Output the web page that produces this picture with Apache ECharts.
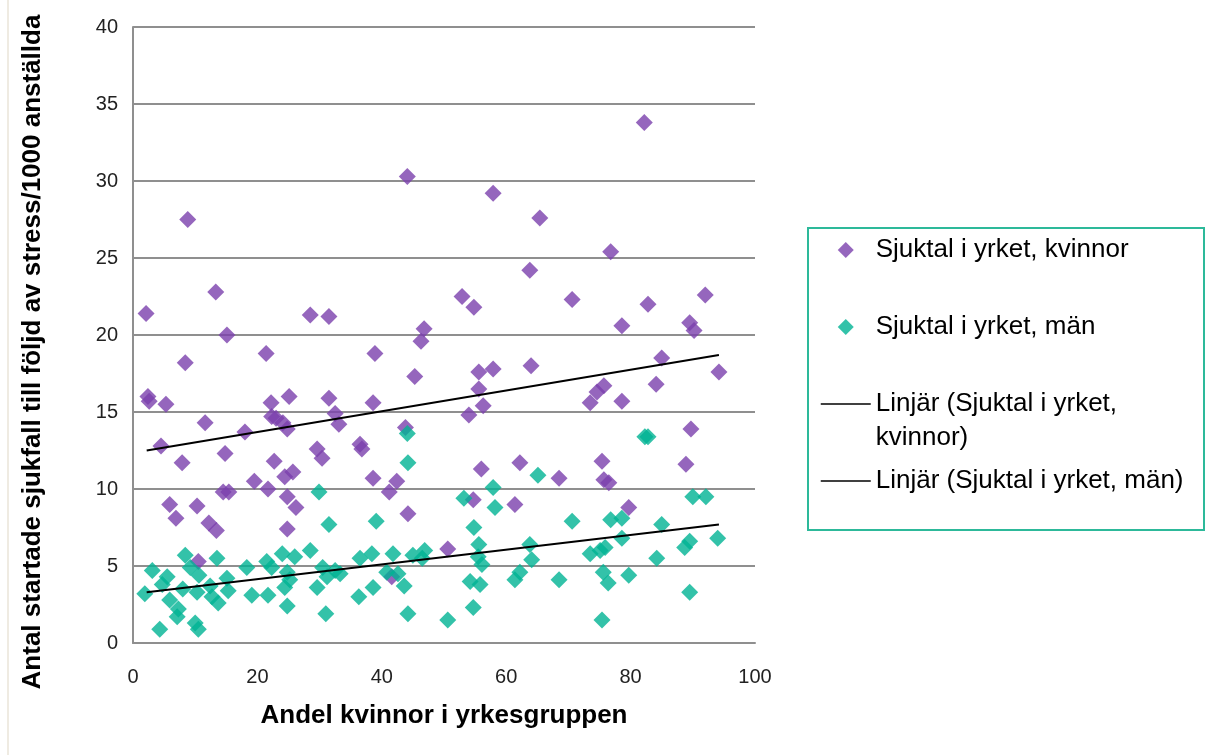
<!DOCTYPE html>
<html>
<head>
<meta charset="utf-8">
<script src="https://cdn.jsdelivr.net/npm/echarts@6/dist/echarts.min.js"></script>
<style>
html,body{margin:0;padding:0;background:#fff;}
#chart{width:1205px;height:755px;}
</style>
</head>
<body>
<div id="chart"></div>
<script>
// ---- data ----
const seriesNames = ['Sjuktal i yrket, kvinnor', 'Sjuktal i yrket, män',
  'Linjär (Sjuktal i yrket, kvinnor)', 'Linjär (Sjuktal i yrket, män)'];
const xTitle = 'Andel kvinnor i yrkesgruppen';
const yTitle = 'Antal startade sjukfall till följd av stress/1000 anställda';

// [andel kvinnor %, sjuktal]
const women = [
  [2.1,21.4],[2.4,16.0],[2.6,15.7],[4.5,12.8],[5.3,15.5],[5.9,9.0],[6.9,8.1],[7.9,11.7],
  [8.4,18.2],[8.8,27.5],[10.3,8.9],[11.6,14.3],[12.2,7.8],[13.4,7.3],[13.3,22.8],[14.5,9.8],
  [14.8,12.3],[15.1,20.0],[15.4,9.8],[18.0,13.7],[19.5,10.5],[21.4,18.8],[21.7,10.0],[22.2,15.6],
  [22.3,14.7],[22.7,11.8],[23.0,14.6],[24.1,14.3],[24.4,10.8],[24.8,13.9],[25.1,16.0],[24.8,9.5],
  [24.8,7.4],[25.7,11.1],[26.2,8.8],[28.5,21.3],[29.6,12.6],[30.4,12.0],[31.5,21.2],[31.5,15.9],
  [32.5,14.9],[33.1,14.2],[36.5,12.9],[36.8,12.6],[38.9,18.8],[38.6,15.6],[38.6,10.7],[41.2,9.8],
  [42.4,10.5],[41.6,4.3],[43.8,14.0],[44.1,30.3],[44.2,8.4],[45.3,17.3],[46.3,19.6],[46.8,20.4],
  [52.9,22.5],[54.0,14.8],[54.8,21.8],[54.7,9.3],[55.6,16.5],[55.6,17.6],[56.0,11.3],[56.3,15.4],
  [57.9,29.2],[57.9,17.8],[62.2,11.7],[61.4,9.0],[63.8,24.2],[64.0,18.0],[65.4,27.6],[68.5,10.7],
  [70.6,22.3],[73.5,15.6],[74.6,16.3],[75.4,11.8],[75.7,16.7],[75.7,10.6],[76.5,10.4],[76.8,25.4],
  [78.6,20.6],[78.6,15.7],[79.7,8.8],[82.2,33.8],[82.8,22.0],[84.1,16.8],[85.0,18.5],[88.9,11.6],
  [89.5,20.8],[89.7,13.9],[90.2,20.3],[92.0,22.6],[94.2,17.6],[10.5,5.3],[50.6,6.1]
];
const men = [
  [1.9,3.2],[3.1,4.7],[4.3,0.9],[4.7,3.8],[5.5,4.3],[5.9,2.8],[7.1,1.7],[7.3,2.2],
  [8.0,3.5],[8.4,5.7],[9.2,4.9],[10.0,1.3],[10.5,0.9],[10.3,3.3],[10.6,4.4],[12.4,3.7],
  [12.7,3.0],[13.5,5.5],[13.7,2.6],[15.1,4.2],[15.3,3.4],[18.3,4.9],[19.1,3.1],[21.5,5.3],
  [21.7,3.1],[22.3,4.9],[24.0,5.8],[24.4,3.6],[24.8,4.6],[25.2,4.1],[24.8,2.4],[26.0,5.6],
  [28.5,6.0],[29.6,3.6],[29.9,9.8],[30.5,4.9],[31.2,4.3],[31.0,1.9],[31.5,7.7],[32.5,4.7],
  [33.3,4.5],[36.3,3.0],[36.5,5.5],[38.4,5.8],[38.6,3.6],[39.1,7.9],[40.8,4.6],[41.8,5.8],
  [42.6,4.5],[43.6,3.7],[44.1,13.6],[44.2,11.7],[44.2,1.9],[45.0,5.7],[46.5,5.5],[46.9,6.0],
  [50.6,1.5],[53.2,9.4],[54.2,4.0],[54.7,2.3],[54.8,7.5],[55.6,6.4],[55.5,5.6],[56.1,5.1],
  [55.8,3.8],[57.9,10.1],[58.2,8.8],[61.4,4.1],[62.2,4.6],[63.8,6.4],[64.1,5.4],[65.1,10.9],
  [68.5,4.1],[70.6,7.9],[73.5,5.8],[75.1,6.0],[75.9,6.2],[75.4,1.5],[75.6,4.6],[76.4,3.9],
  [76.8,8.0],[78.6,8.1],[78.6,6.8],[79.7,4.4],[82.3,13.4],[82.8,13.4],[84.2,5.5],[85.0,7.7],
  [88.7,6.2],[89.5,6.6],[89.5,3.3],[90.0,9.5],[92.1,9.5],[94.0,6.8]
];
// trend line end points
const trendWomen = [[2.2,12.5],[94.2,18.7]];
const trendMen = [[2.2,3.3],[94.2,7.7]];

const xTicks = {min:0, max:100, interval:20};
const yTicks = {min:0, max:40, interval:5};

// ---- chart ----
const FONT = '"Liberation Sans", Arial, sans-serif';
const PURPLE = '#7A40AC';
const TEAL = '#00B393';
const GRID = '#8F8F8F';
const LEGEND_BORDER = '#2DB99A';
// diamond centred in a 50-wide icon box (tiny end segments keep the box width)
const DIAMOND_ICON = 'path://M0,8L0.01,8M16,8L25,-1L34,8L25,17ZM49.99,8L50,8';
// line-only legend icon: the centre symbol is made invisible
const LINE_ITEM_STYLE = {opacity:0, color:'transparent', borderWidth:0};

const legendText = {
  fontFamily:FONT, fontSize:26, color:'#000', lineHeight:34,
  rich:{
    a:{fontFamily:FONT, fontSize:26, color:'#000', lineHeight:34},
    b:{fontFamily:FONT, fontSize:26, color:'#000', lineHeight:0, verticalAlign:'top', padding:[4,0,0,0]}
  }
};

const chart = echarts.init(document.getElementById('chart'), null, {renderer:'canvas'});
chart.setOption({
  animation:false,
  backgroundColor:'#fff',
  grid:{left:133, top:27, width:622, height:616, containLabel:false},
  xAxis:{
    type:'value', min:xTicks.min, max:xTicks.max, interval:xTicks.interval,
    name:xTitle, nameLocation:'middle', nameGap:60,
    nameTextStyle:{fontFamily:FONT, fontSize:26, fontWeight:'bold', color:'#000'},
    axisLine:{show:true, lineStyle:{color:GRID, width:2}},
    axisTick:{show:false},
    splitLine:{show:false},
    axisLabel:{fontFamily:FONT, fontSize:20, color:'#222', margin:24}
  },
  yAxis:{
    type:'value', min:yTicks.min, max:yTicks.max, interval:yTicks.interval,
    axisLine:{show:true, lineStyle:{color:GRID, width:2}},
    axisTick:{show:false},
    splitLine:{show:true, lineStyle:{color:GRID, width:2}},
    axisLabel:{fontFamily:FONT, fontSize:20, color:'#222', margin:15}
  },
  legend:[
    {
      orient:'vertical', left:808, top:228,
      padding:[5,0,0,12],
      itemWidth:50, itemHeight:16, itemGap:43,
      data:[
        {name:seriesNames[0], icon:DIAMOND_ICON},
        {name:seriesNames[1], icon:DIAMOND_ICON},
        {name:seriesNames[2], itemStyle:LINE_ITEM_STYLE, lineStyle:{color:'#000', width:1.5}}
      ],
      formatter:function(name){
        if(name === seriesNames[2]) return '{a|Linjär (Sjuktal i yrket,}\n{b|kvinnor)}';
        return name;
      },
      textStyle:legendText
    },
    {
      orient:'vertical', left:808, top:464,
      padding:[0,0,0,12],
      itemWidth:50, itemHeight:16,
      data:[{name:seriesNames[3], itemStyle:LINE_ITEM_STYLE, lineStyle:{color:'#000', width:1.5}}],
      textStyle:legendText
    }
  ],
  graphic:[
    {type:'line', shape:{x1:8, y1:0, x2:8, y2:755}, style:{stroke:'#EFEBE2', lineWidth:2}, silent:true},
    {type:'rect', shape:{x:808, y:228, width:396, height:302},
     style:{fill:'none', stroke:LEGEND_BORDER, lineWidth:2}, silent:true},
    {type:'text', x:33, y:352, rotation:Math.PI/2,
     style:{text:yTitle, font:'bold 26px "Liberation Sans", Arial, sans-serif', fill:'#000',
            textAlign:'center', textVerticalAlign:'middle'}}
  ],
  series:[
    {name:seriesNames[0], type:'scatter', data:women, symbol:'diamond', symbolSize:17,
     itemStyle:{color:PURPLE}, z:2},
    {name:seriesNames[1], type:'scatter', data:men, symbol:'diamond', symbolSize:17,
     itemStyle:{color:TEAL}, z:3},
    {name:seriesNames[2], type:'line', data:trendWomen, symbol:'none', showSymbol:false,
     lineStyle:{color:'#000', width:2}, itemStyle:{color:'#000'}, z:4, silent:true},
    {name:seriesNames[3], type:'line', data:trendMen, symbol:'none', showSymbol:false,
     lineStyle:{color:'#000', width:2}, itemStyle:{color:'#000'}, z:4, silent:true}
  ]
});
</script>
</body>
</html>
